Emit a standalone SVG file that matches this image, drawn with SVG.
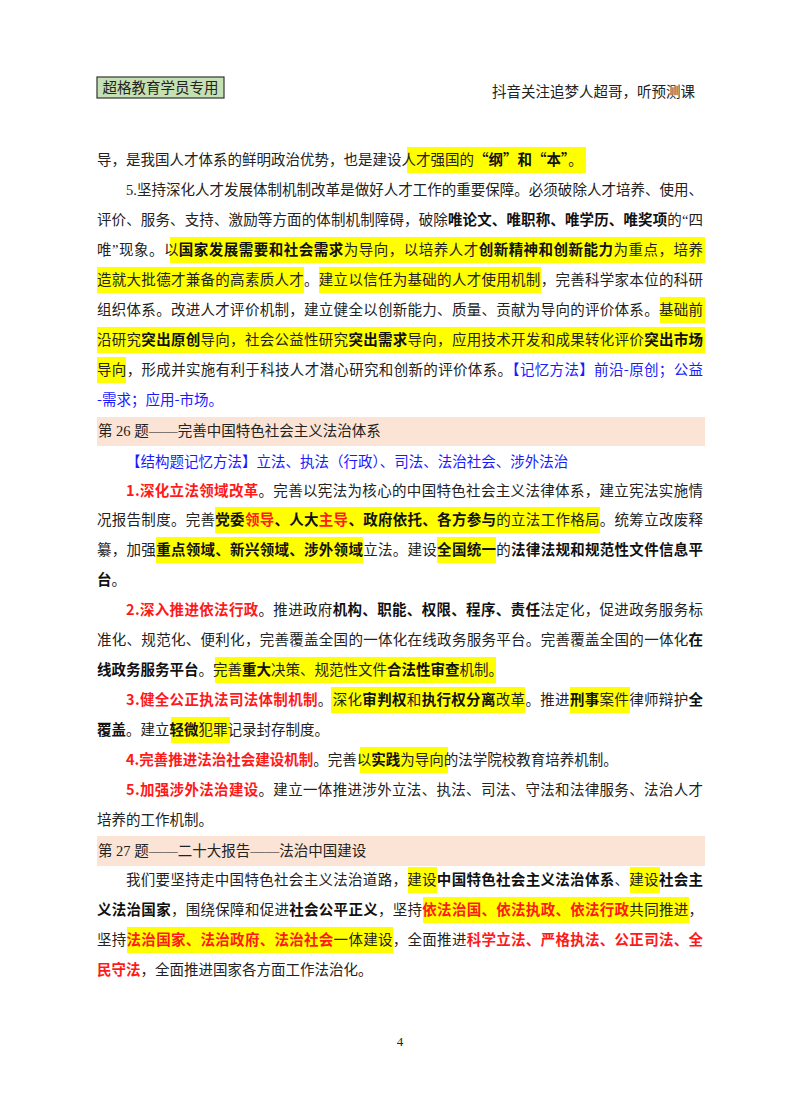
<svg xmlns="http://www.w3.org/2000/svg" width="800" height="1114" viewBox="0 0 800 1114">
<style>
text{font-family:"Liberation Serif","Noto Sans CJK SC",serif;font-size:14.5px;fill:#222}
.b{font-family:"Noto Sans CJK SC",sans-serif;font-weight:bold;fill:#111}
.r{font-family:"Noto Sans CJK SC",sans-serif;font-weight:bold;fill:#ff1a1a}
.bl{font-family:"Noto Sans CJK SC",sans-serif;fill:#1a1aff}
.hl{fill:#ffff00}
.bar{fill:#fbe4d5}
</style>
<rect width="800" height="1114" fill="#fff"/>
<g id="header">
<rect x="97" y="77" width="127" height="21" fill="#c5e0b3" stroke="#333" stroke-width="1.2"/>
<text x="160.5" y="93" text-anchor="middle">超格教育学员专用</text>
<text x="492" y="97">抖音关注追梦人超哥，听预测课</text>
</g>
<g id="highlights">
<rect class="hl" x="407" y="147" width="179" height="26"/>
<rect class="hl" x="170" y="237" width="535" height="26"/>
<rect class="hl" x="97" y="267" width="207" height="26"/>
<rect class="hl" x="319" y="267" width="222" height="26"/>
<rect class="hl" x="660" y="297" width="45" height="26"/>
<rect class="hl" x="97" y="327" width="608" height="26"/>
<rect class="hl" x="97" y="357" width="29" height="26"/>
<rect class="hl" x="215" y="507" width="385" height="26"/>
<rect class="hl" x="156" y="537" width="207" height="26"/>
<rect class="hl" x="437" y="537" width="59" height="26"/>
<rect class="hl" x="215" y="657" width="281" height="26"/>
<rect class="hl" x="331" y="687" width="194" height="26"/>
<rect class="hl" x="570" y="687" width="60" height="26"/>
<rect class="hl" x="171" y="717" width="59" height="26"/>
<rect class="hl" x="360" y="747" width="88" height="26"/>
<rect class="hl" x="408" y="867" width="29" height="26"/>
<rect class="hl" x="630" y="867" width="30" height="26"/>
<rect class="hl" x="423" y="897" width="266" height="26"/>
<rect class="hl" x="127" y="927" width="266" height="26"/>
<rect class="bar" x="97" y="417" width="608" height="29"/>
<rect class="bar" x="97" y="836" width="608" height="30"/>
</g>
<g id="text">
<text x="97" y="165">导，是我国人才体系的鲜明政治优势，也是建设人才强国的<tspan class="b">“纲”和“本”</tspan>。</text>
<text x="126" y="195" textLength="577" lengthAdjust="spacing">5.坚持深化人才发展体制机制改革是做好人才工作的重要保障。必须破除人才培养、使用、</text>
<text x="97" y="225" textLength="606" lengthAdjust="spacing">评价、服务、支持、激励等方面的体制机制障碍，破除<tspan class="b">唯论文、唯职称、唯学历、唯奖项</tspan>的“四</text>
<text x="97" y="255" textLength="606" lengthAdjust="spacing">唯”现象。以<tspan class="b">国家发展需要和社会需求</tspan>为导向，以培养人才<tspan class="b">创新精神和创新能力</tspan>为重点，培养</text>
<text x="97" y="285" textLength="606" lengthAdjust="spacing">造就大批德才兼备的高素质人才。建立以信任为基础的人才使用机制，完善科学家本位的科研</text>
<text x="97" y="315" textLength="606" lengthAdjust="spacing">组织体系。改进人才评价机制，建立健全以创新能力、质量、贡献为导向的评价体系。基础前</text>
<text x="97" y="345" textLength="606" lengthAdjust="spacing">沿研究<tspan class="b">突出原创</tspan>导向，社会公益性研究<tspan class="b">突出需求</tspan>导向，应用技术开发和成果转化评价<tspan class="b">突出市场</tspan></text>
<text x="97" y="375" textLength="606" lengthAdjust="spacing">导向，形成并实施有利于科技人才潜心研究和创新的评价体系。<tspan class="bl">【记忆方法】前沿-原创；公益</tspan></text>
<text x="97" y="405" class="bl">-需求；应用-市场。</text>
<text x="98" y="436">第 26 题——完善中国特色社会主义法治体系</text>
<text x="126" y="467" class="bl">【结构题记忆方法】立法、执法（行政）、司法、法治社会、涉外法治</text>
<text x="126" y="496" textLength="577" lengthAdjust="spacing"><tspan class="r">1.深化立法领域改革</tspan>。完善以宪法为核心的中国特色社会主义法律体系，建立宪法实施情</text>
<text x="97" y="525" textLength="606" lengthAdjust="spacing">况报告制度。完善<tspan class="b">党委</tspan><tspan class="r">领导</tspan><tspan class="b">、人大</tspan><tspan class="r">主导</tspan><tspan class="b">、政府依托、各方参与</tspan>的立法工作格局。统筹立改废释</text>
<text x="97" y="555" textLength="606" lengthAdjust="spacing">纂，加强<tspan class="b">重点领域、新兴领域、涉外领域</tspan>立法。建设<tspan class="b">全国统一</tspan>的<tspan class="b">法律法规和规范性文件信息平</tspan></text>
<text x="97" y="585"><tspan class="b">台</tspan>。</text>
<text x="126" y="615" textLength="577" lengthAdjust="spacing"><tspan class="r">2.深入推进依法行政</tspan>。推进政府<tspan class="b">机构、职能、权限、程序、责任</tspan>法定化，促进政务服务标</text>
<text x="97" y="645" textLength="606" lengthAdjust="spacing">准化、规范化、便利化，完善覆盖全国的一体化在线政务服务平台。完善覆盖全国的一体化<tspan class="b">在</tspan></text>
<text x="97" y="675"><tspan class="b">线政务服务平台</tspan>。完善<tspan class="b">重大</tspan>决策、规范性文件<tspan class="b">合法性审查</tspan>机制。</text>
<text x="126" y="705" textLength="577" lengthAdjust="spacing"><tspan class="r">3.健全公正执法司法体制机制</tspan>。深化<tspan class="b">审判权</tspan>和<tspan class="b">执行权分离</tspan>改革。推进<tspan class="b">刑事</tspan>案件律师辩护<tspan class="b">全</tspan></text>
<text x="97" y="735"><tspan class="b">覆盖</tspan>。建立<tspan class="b">轻微</tspan>犯罪记录封存制度。</text>
<text x="126" y="765"><tspan class="r">4.完善推进法治社会建设机制</tspan>。完善以<tspan class="b">实践</tspan>为导向的法学院校教育培养机制。</text>
<text x="126" y="795" textLength="577" lengthAdjust="spacing"><tspan class="r">5.加强涉外法治建设</tspan>。建立一体推进涉外立法、执法、司法、守法和法律服务、法治人才</text>
<text x="97" y="825">培养的工作机制。</text>
<text x="98" y="856">第 27 题——二十大报告——法治中国建设</text>
<text x="126" y="885" textLength="577" lengthAdjust="spacing">我们要坚持走中国特色社会主义法治道路，建设<tspan class="b">中国特色社会主义法治体系</tspan>、建设<tspan class="b">社会主</tspan></text>
<text x="97" y="915" textLength="606" lengthAdjust="spacing"><tspan class="b">义法治国家</tspan>，围绕保障和促进<tspan class="b">社会公平正义</tspan>，坚持<tspan class="r">依法治国、依法执政、依法行政</tspan>共同推进，</text>
<text x="97" y="945" textLength="606" lengthAdjust="spacing">坚持<tspan class="r">法治国家、法治政府、法治社会</tspan>一体建设，全面推进<tspan class="r">科学立法、严格执法、公正司法、全</tspan></text>
<text x="97" y="975"><tspan class="r">民守法</tspan>，全面推进国家各方面工作法治化。</text>
<text x="400" y="1046" text-anchor="middle" style="font-size:13px">4</text>
</g>
</svg>
